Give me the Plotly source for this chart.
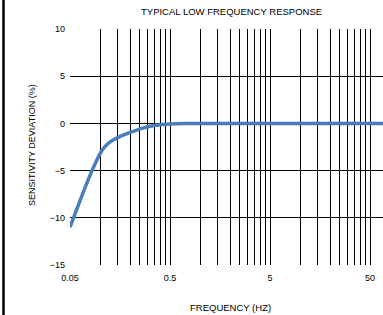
import math
import plotly.graph_objects as go

# Data
freq_hz = [0.05, 0.065, 0.08, 0.088, 0.095, 0.1, 0.11, 0.126, 0.15, 0.2, 0.25, 0.3, 0.4, 0.5, 0.7, 1, 2, 5, 10, 20, 50, 70]
deviation_pct = [-11, -7.8, -5.4, -4.4, -3.65, -3.2, -2.55, -1.95, -1.5, -0.95, -0.6, -0.35, -0.15, -0.07, -0.02, 0, 0, 0, 0, 0, 0, 0]
x_tick_vals = [0.05, 0.5, 5, 50]
x_tick_text = ["0.05", "0.5", "5", "50"]
x_minor_vals = [b * k for b in (0.05, 0.5, 5, 50) for k in range(2, 10)]
y_tick_vals = [-15, -10, -5, 0, 5, 10]

W, H = 383, 315
L, R, T, B = 70, 0, 29, 50
pw, ph = W - L - R, H - T - B

FONT = "Liberation Sans, Arial, sans-serif"

fig = go.Figure()
fig.add_trace(go.Scatter(
    x=freq_hz, y=deviation_pct, mode="lines",
    line=dict(color="#4a7ebb", width=3.5, shape="spline", smoothing=1.0),
    hoverinfo="skip", showlegend=False,
))

x0 = math.log10(0.05)
fig.update_xaxes(
    type="log", range=[x0, x0 + pw / 100.0],
    tickmode="array", tickvals=x_tick_vals, ticktext=x_tick_text,
    showgrid=True, gridcolor="#000000", gridwidth=1.3,
    minor=dict(tickmode="array", tickvals=x_minor_vals, showgrid=True,
               gridcolor="#000000", gridwidth=1.3, ticks=""),
    ticks="", showline=False, zeroline=False,
    ticklabelstandoff=6,
    tickfont=dict(family=FONT, size=9, color="#000000"),
)
fig.update_yaxes(
    range=[-15, 10], tickmode="array", tickvals=y_tick_vals,
    showgrid=True, gridcolor="#000000", gridwidth=1.3,
    ticks="", showline=False, zeroline=False,
    ticklabelstandoff=4,
    tickfont=dict(family=FONT, size=9, color="#000000"),
)

def px_to_paper_x(px):
    return (px - L) / pw

def px_to_paper_y(py):
    return (H - B - py) / ph

annotations = [
    dict(text="TYPICAL LOW FREQUENCY RESPONSE", x=px_to_paper_x(232), y=px_to_paper_y(12),
         xref="paper", yref="paper", showarrow=False, xanchor="center", yanchor="middle",
         font=dict(family=FONT, size=9.5, color="#000000")),
    dict(text="FREQUENCY (HZ)", x=px_to_paper_x(230), y=px_to_paper_y(307),
         xref="paper", yref="paper", showarrow=False, xanchor="center", yanchor="middle",
         font=dict(family=FONT, size=9.5, color="#000000")),
    dict(text="SENSITIVITY DEVIATION (%)", x=px_to_paper_x(32), y=px_to_paper_y(145),
         xref="paper", yref="paper", showarrow=False, xanchor="center", yanchor="middle",
         textangle=-90, font=dict(family=FONT, size=9, color="#000000")),
]

fig.update_layout(
    width=W, height=H,
    margin=dict(l=L, r=R, t=T, b=B, pad=0),
    paper_bgcolor="#ffffff", plot_bgcolor="#ffffff",
    annotations=annotations,
    shapes=[dict(type="line", xref="paper", yref="paper",
                 x0=px_to_paper_x(3.5), x1=px_to_paper_x(3.5),
                 y0=px_to_paper_y(H), y1=px_to_paper_y(0),
                 line=dict(color="#000000", width=2.5))],
)

fig.write_html("out.html", config={"displayModeBar": False},
               post_script="document.body.style.margin='0';document.body.style.overflow='hidden';")
